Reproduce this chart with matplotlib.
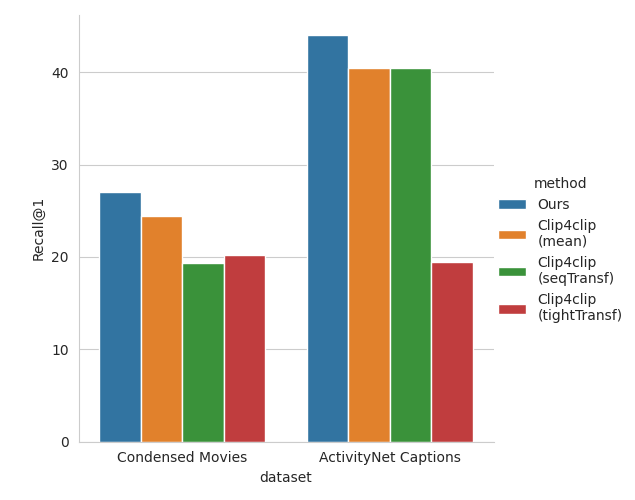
import pandas as pd
import seaborn as sns
import matplotlib
matplotlib.use("Agg")
import matplotlib.pyplot as plt

datasets = ["Condensed Movies", "ActivityNet Captions"]
methods = ["Ours", "Clip4clip\n(mean)", "Clip4clip\n(seqTransf)", "Clip4clip\n(tightTransf)"]
recall_cm = [27.0, 24.4, 19.3, 20.2]
recall_anc = [44.0, 40.5, 40.5, 19.5]

rows = []
for m, v in zip(methods, recall_cm):
    rows.append({"dataset": datasets[0], "method": m, "Recall@1": v})
for m, v in zip(methods, recall_anc):
    rows.append({"dataset": datasets[1], "method": m, "Recall@1": v})
df = pd.DataFrame(rows)

sns.set_style("whitegrid")
g = sns.catplot(data=df, x="dataset", y="Recall@1", hue="method", kind="bar",
                height=5, errorbar=None, palette="tab10", saturation=0.75)
g.figure.set_size_inches(6.35, 5)
g.figure.savefig("out.png", dpi=100)
